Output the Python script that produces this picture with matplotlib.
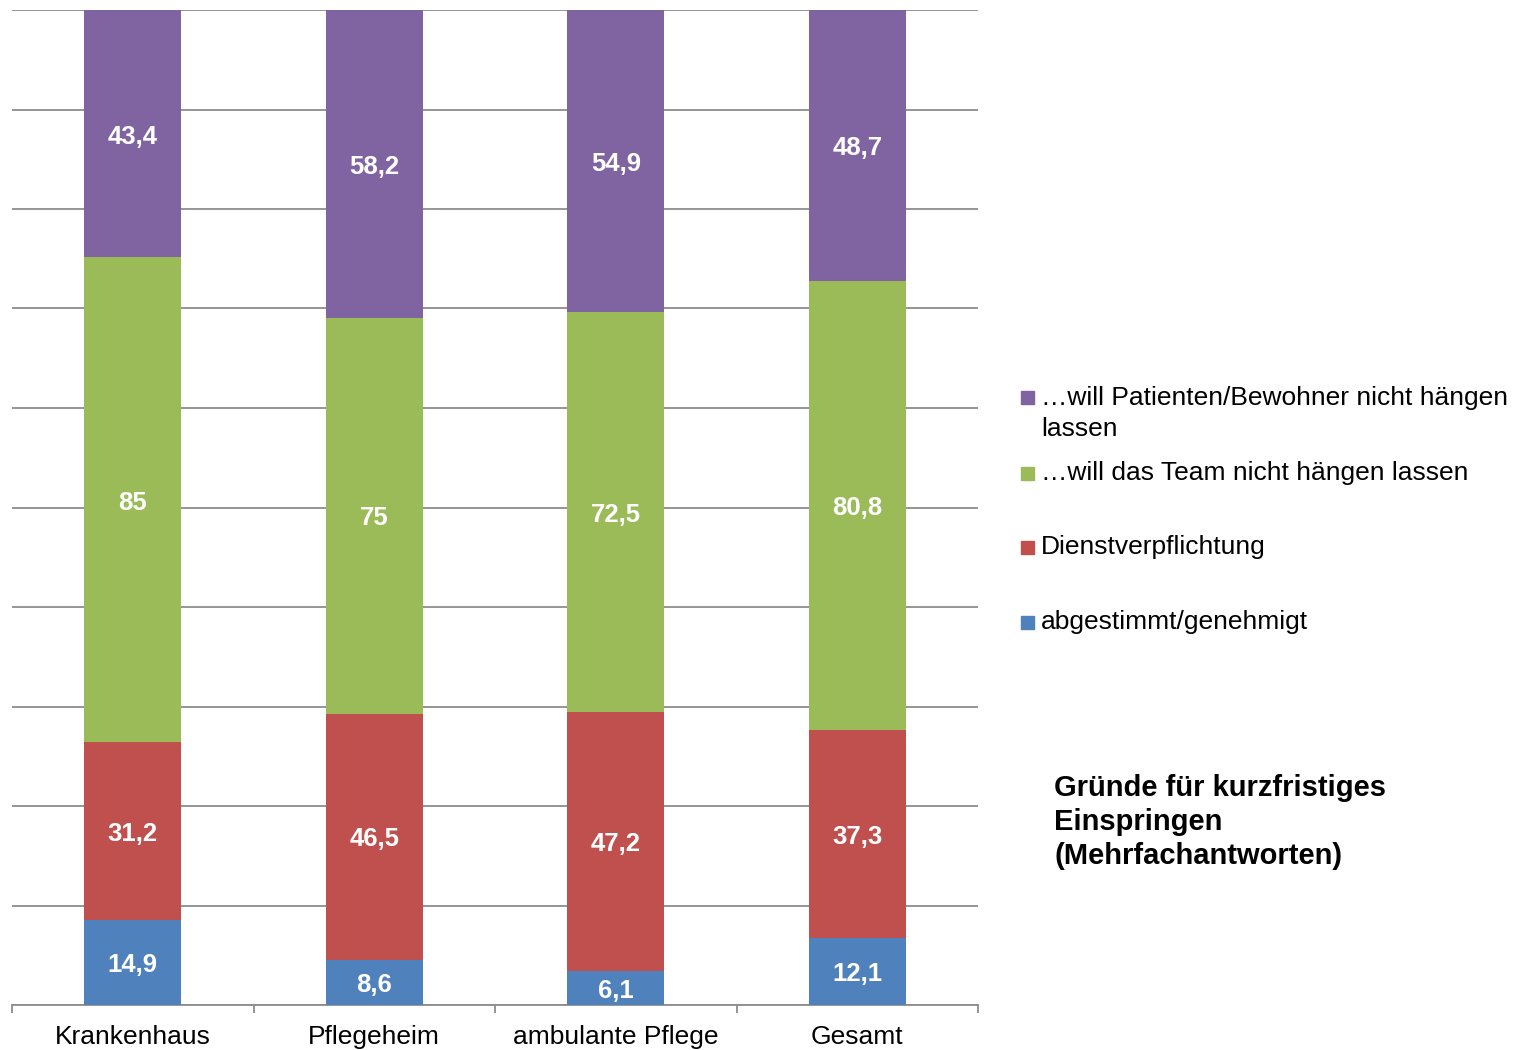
import matplotlib
matplotlib.use("Agg")
import matplotlib.pyplot as plt
import numpy as np
from matplotlib.patches import Rectangle

plt.rcParams["font.family"] = ["Liberation Sans", "DejaVu Sans"]

# data (values as printed, bars are shown as 100% stacks)
categories = ["Krankenhaus", "Pflegeheim", "ambulante Pflege", "Gesamt"]
series_names = [
    "abgestimmt/genehmigt",
    "Dienstverpflichtung",
    "…will das Team nicht hängen lassen",
    "…will Patienten/Bewohner nicht hängen\nlassen",
]
abgestimmt = [14.9, 8.6, 6.1, 12.1]
dienst = [31.2, 46.5, 47.2, 37.3]
team = [85, 75, 72.5, 80.8]
patienten = [43.4, 58.2, 54.9, 48.7]
value_labels = [
    ["14,9", "8,6", "6,1", "12,1"],
    ["31,2", "46,5", "47,2", "37,3"],
    ["85", "75", "72,5", "80,8"],
    ["43,4", "58,2", "54,9", "48,7"],
]
colors = ["#4F81BD", "#C0504D", "#9BBB59", "#8064A2"]
title = "Gründe für kurzfristiges\nEinspringen\n(Mehrfachantworten)"

W, H = 1529, 1050
fig = plt.figure(figsize=(W / 100, H / 100), dpi=100)
ax = fig.add_axes([12 / W, 1 - 1005 / H, (978 - 12) / W, (1005 - 10) / H])

series = np.array([abgestimmt, dienst, team, patienten], dtype=float)
shares = series / series.sum(axis=0)
x = np.arange(len(categories))
bottom = np.zeros(len(categories))
for i in range(len(series)):
    bars = ax.bar(x, shares[i], 0.4, bottom=bottom, color=colors[i], zorder=3)
    for j, b in enumerate(bars):
        ax.annotate(value_labels[i][j],
                    (b.get_x() + b.get_width() / 2, bottom[j] + shares[i][j] / 2),
                    xytext=(0, -2), textcoords="offset points",
                    ha="center", va="center", color="white",
                    fontsize=18.5, fontweight="bold", zorder=4)
    bottom += shares[i]

ax.set_xlim(-0.5, len(categories) - 0.5)
ax.set_ylim(0, 1)
ax.set_yticks(np.arange(0, 1.01, 0.1))
ax.yaxis.grid(True, color="#8c8c8c", linewidth=1.3, zorder=0)
ax.tick_params(axis="y", left=False, labelleft=False)

ax.set_xticks(np.arange(-0.5, len(categories), 1.0))
ax.set_xticklabels([])
ax.set_xticks(x, minor=True)
ax.set_xticklabels(categories, minor=True, fontsize=19)
ax.tick_params(axis="x", which="major", length=6, width=1.3, color="#8c8c8c")
ax.tick_params(axis="x", which="minor", length=0, pad=14.5)

for s in ["left", "right", "top"]:
    ax.spines[s].set_visible(False)
ax.spines["bottom"].set_color("#8c8c8c")
ax.spines["bottom"].set_linewidth(1.3)

# legend, top entry first
legend_rows = [622, 547, 473, 398]
for i in range(len(series_names) - 1, -1, -1):
    yc = legend_rows[i]
    fig.patches.append(Rectangle((1021 / W, 1 - (yc + 6.5) / H), 13 / W, 13 / H,
                                 transform=fig.transFigure, color=colors[i]))
    for k, line in enumerate(series_names[i].split("\n")):
        fig.text(1041 / W, 1 - (yc + 31 * k) / H, line, ha="left", va="center",
                 fontsize=19)

fig.text(1054 / W, 1 - 822 / H, title, ha="left", va="center", fontsize=21,
         fontweight="bold", linespacing=1.28)

fig.savefig("out.png", dpi=100)
